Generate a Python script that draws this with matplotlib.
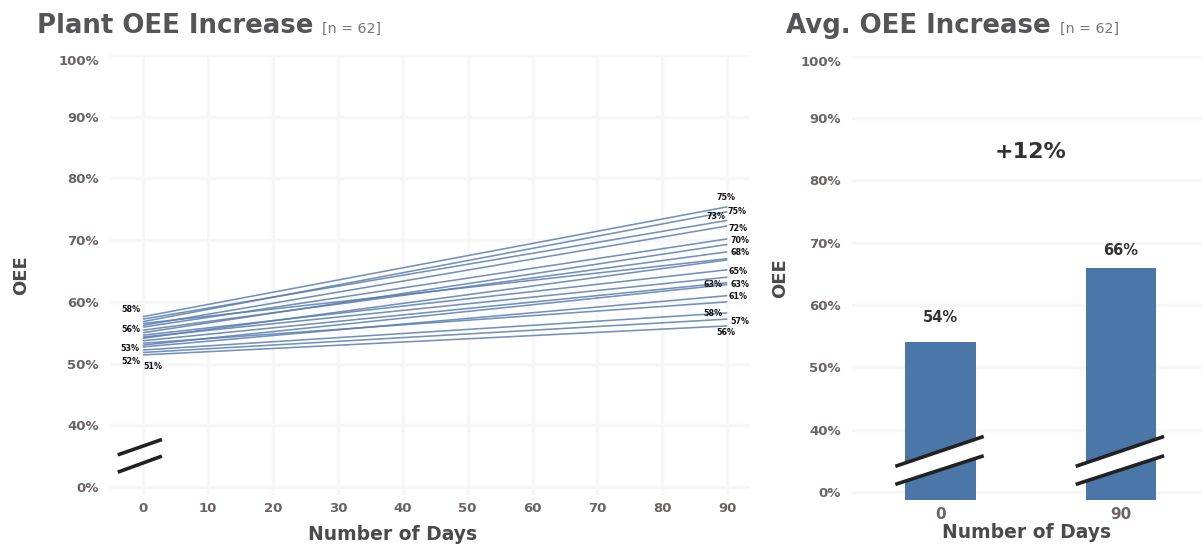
import matplotlib
matplotlib.use("Agg")
import matplotlib.pyplot as plt
from matplotlib.patches import Polygon

# ── Data ─────────────────────────────────────────────────────────────────────
# per-plant OEE (%) at day 0 and day 90
oee_day0 = [57.6, 57.2, 56.8, 56.2, 55.9, 55.4, 55.0, 54.6, 54.1,
            53.7, 53.0, 52.7, 52.2, 51.8, 51.4, 56.5, 54.3, 53.3]
oee_day90 = [75.4, 73.2, 74.6, 72.3, 70.2, 68.1, 69.3, 65.2, 66.8,
             63.1, 62.8, 61.0, 58.2, 57.2, 56.1, 67.0, 64.0, 60.0]
days = [0, 90]

# average OEE for the bar chart
avg_days = ["0", "90"]
avg_oee = [54, 66]
n_plants = 62

# y ticks: the axis is broken below 40%, so "0%" sits where 30 would be
ytick_pos = [30, 40, 50, 60, 70, 80, 90, 100]
ytick_lbl = ["0%", "40%", "50%", "60%", "70%", "80%", "90%", "100%"]
xtick_pos = [0, 10, 20, 30, 40, 50, 60, 70, 80, 90]

# which line ends get a value label, and where (offset in pixels)
start_labels = {0: (-12, 7), 3: (-12, -4), 10: (-13, -3), 12: (-12, -12), 14: (10, -12)}
end_labels = {0: (-1, 9), 2: (10, 0), 1: (-11, 4), 3: (11, -3), 4: (13, -2),
              5: (13, -1), 7: (11, -2), 9: (-14, -2), 10: (13, 0), 11: (11, -1),
              12: (-14, -1), 13: (13, -2), 14: (-1, -7)}

# ── Style ────────────────────────────────────────────────────────────────────
FONT = "DejaVu Sans"
LINE_C = "#5a7eb0"
BAR_C = "#4a76a8"
TICK_C = "#6b6464"
LABEL_C = "#4a4a4a"
TITLE_C = "#555557"
GRID_C = "#f7f7f7"
YLO = 28.7

plt.rcParams["font.family"] = FONT

fig = plt.figure(figsize=(12.02, 5.46), dpi=100, facecolor="white")

ax1 = fig.add_axes([110 / 1202, 1 - 495 / 546, 640 / 1202, 440 / 546])
ax2 = fig.add_axes([852 / 1202, 1 - 500 / 546, 350 / 1202, 444.4 / 546])


def style_axis(ax, xsize, ypad):
    for s in ax.spines.values():
        s.set_visible(False)
    ax.set_yticks(ytick_pos)
    ax.set_yticklabels(ytick_lbl)
    ax.tick_params(axis="y", length=0, labelsize=9.5, labelcolor=TICK_C, pad=8)
    ax.tick_params(axis="x", length=0, labelsize=xsize, labelcolor=TICK_C, pad=5)
    for t in ax.get_yticklabels() + ax.get_xticklabels():
        t.set_fontweight("bold")
    # keep the top label inside the panel
    ax.get_yticklabels()[-1].set_va("top")
    ax.set_ylabel("OEE", fontsize=13, fontweight="bold", color=LABEL_C, labelpad=ypad)
    ax.set_xlabel("Number of Days", fontsize=13.5, fontweight="bold",
                  color=LABEL_C, labelpad=6)
    ax.set_axisbelow(True)


# ── Left: per-plant slope lines ──────────────────────────────────────────────
ax1.set_xlim(-5.1, 93.5)
ax1.set_ylim(YLO, 100)
ax1.set_xticks(xtick_pos)
ax1.grid(True, color=GRID_C, lw=2.5)

for a, b in zip(oee_day0, oee_day90):
    ax1.plot(days, [a, b], color=LINE_C, lw=1.15, alpha=0.85, solid_capstyle="butt")

lbl_kw = dict(textcoords="offset pixels", ha="center", va="center",
              fontsize=5.8, fontweight="bold", color="#111111")
for i, (dx, dy) in start_labels.items():
    ax1.annotate(f"{oee_day0[i]:.0f}%", (0, oee_day0[i]), xytext=(dx, dy), **lbl_kw)
for i, (dx, dy) in end_labels.items():
    ax1.annotate(f"{oee_day90[i]:.0f}%", (90, oee_day90[i]), xytext=(dx, dy), **lbl_kw)

# axis break marks
ax1.plot([-3.9, 2.9], [35.2, 37.7], color="#222222", lw=2.6, solid_capstyle="butt")
ax1.plot([-3.9, 2.9], [32.4, 35.0], color="#222222", lw=2.6, solid_capstyle="butt")
style_axis(ax1, 9.5, 20)
# x title is centred on the whole left panel, not only the plotting area
ax1.xaxis.set_label_coords(0.442, -0.068)

# ── Right: average bars ──────────────────────────────────────────────────────
ax2.set_xlim(-0.49, 1.45)
ax2.set_ylim(YLO, 100)
ax2.yaxis.grid(True, color=GRID_C, lw=2.5)
xs = range(len(avg_oee))
ax2.bar(xs, [v - YLO for v in avg_oee], bottom=YLO, width=0.39, color=BAR_C)
ax2.set_xticks(list(xs))
ax2.set_xticklabels(avg_days)
for x, v, pad in zip(xs, avg_oee, [2.8, 1.5]):
    ax2.text(x, v + pad, f"{v}%", ha="center", va="bottom", fontsize=10.5,
             fontweight="bold", color="#333333")
    # break band across the bar
    band = Polygon([(x - 0.25, 34.1), (x + 0.24, 38.9), (x + 0.24, 35.8), (x - 0.25, 31.2)],
                   closed=True, facecolor="white", edgecolor="none", zorder=3)
    ax2.add_patch(band)
    ax2.plot([x - 0.25, x + 0.24], [34.1, 38.9], color="#222222", lw=2.6,
             solid_capstyle="butt", zorder=4)
    ax2.plot([x - 0.25, x + 0.24], [31.2, 35.8], color="#222222", lw=2.6,
             solid_capstyle="butt", zorder=4)

ax2.text(0.5, 84.5, f"+{avg_oee[1] - avg_oee[0]}%", ha="center", va="center",
         fontsize=16, fontweight="bold", color="#333333")
style_axis(ax2, 11, 8)
ax2.xaxis.labelpad = 1

# ── Titles ───────────────────────────────────────────────────────────────────
pairs = []
for x0, title in [(37, "Plant OEE Increase"), (786, "Avg. OEE Increase")]:
    t = fig.text(x0 / 1202, 1 - 33 / 546, title, fontsize=18.7, fontweight="bold",
                 color=TITLE_C, va="baseline", ha="left")
    n = fig.text(0, 1 - 33 / 546, f"[n = {n_plants}]", fontsize=10.3, color="#777777",
                 va="baseline", ha="left")
    pairs.append((t, n))

fig.canvas.draw()
# place the [n = ..] tags right after each title
for t, n in pairs:
    bb = t.get_window_extent()
    n.set_x((bb.x1 + 9) / fig.bbox.width)

fig.savefig("out.png", dpi=100, facecolor="white")
